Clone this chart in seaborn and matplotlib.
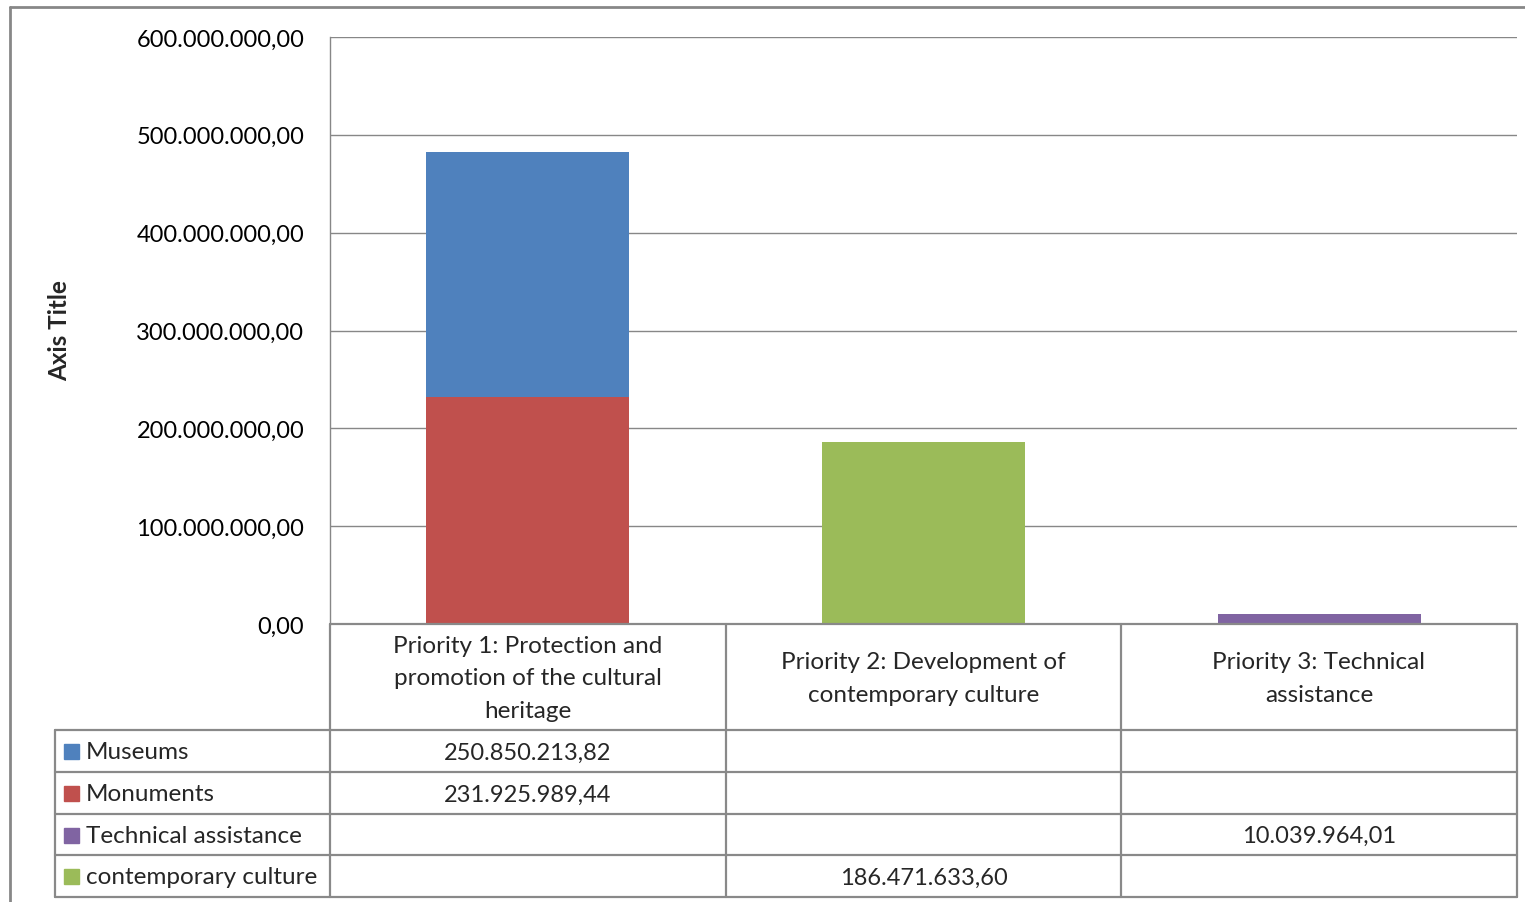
import numpy as np
import pandas as pd
import matplotlib
matplotlib.use("Agg")
import matplotlib.pyplot as plt
import seaborn as sns
from matplotlib.lines import Line2D
from matplotlib.patches import Rectangle

# ---- data ----
categories = ["Priority 1: Protection and\npromotion of the cultural\nheritage",
              "Priority 2: Development of\ncontemporary culture",
              "Priority 3: Technical\nassistance"]
series_names = ["Museums", "Monuments", "Technical assistance", "contemporary culture"]
museums = [250850213.82, np.nan, np.nan]
monuments = [231925989.44, np.nan, np.nan]
technical = [np.nan, np.nan, 10039964.01]
contemporary = [np.nan, 186471633.60, np.nan]
y_ticks = [0, 100e6, 200e6, 300e6, 400e6, 500e6, 600e6]
colors = {"Museums": "#4F81BD", "Monuments": "#C0504D",
          "Technical assistance": "#8064A2", "contemporary culture": "#9BBB59"}

W, H = 1525, 903
sns.set_theme(style="white")
plt.rcParams["font.family"] = ["Lato", "DejaVu Sans"]

fig = plt.figure(figsize=(W / 100, H / 100), dpi=100)

def fx(px):
    return px / W

def fy(py):
    return 1 - py / H

ax_l, ax_r, ax_t, ax_b = 330, 1517, 38, 625
ax = fig.add_axes([fx(ax_l), fy(ax_b), fx(ax_r) - fx(ax_l), fy(ax_t) - fy(ax_b)])

# stacked: museums sits on top of monuments (draw cumulative first, overlay lower segment)
mus_top = [m + n if not np.isnan(m) else np.nan for m, n in zip(museums, monuments)]
rows = []
for name, vals in zip(series_names, [mus_top, monuments, technical, contemporary]):
    for c, v in zip(categories, vals):
        if not np.isnan(v):
            rows.append({"cat": c, "val": v, "series": name})
df = pd.DataFrame(rows)

sns.barplot(data=df, x="cat", y="val", hue="series", order=categories,
            hue_order=series_names, palette=colors, dodge=False, width=0.513,
            saturation=1, errorbar=None, legend=False, ax=ax, zorder=3,
            linewidth=0, edgecolor="none")

ax.set_xlim(-0.5, 2.5)
ax.set_ylim(0, 600e6)
ax.set_yticks(y_ticks)

def fmt(v):
    s = f"{v:,.2f}"
    return s.replace(",", "X").replace(".", ",").replace("X", ".")

ax.set_yticklabels([fmt(v) for v in y_ticks], fontsize=17, color="black")
ax.tick_params(axis="y", length=0, pad=18.5)
ax.set_xticks([])
ax.set_xlabel("")
ax.set_ylabel("")
ax.grid(axis="y", color="#878787", linewidth=1.0, zorder=0)
ax.set_axisbelow(True)
for s in ["top", "right", "bottom"]:
    ax.spines[s].set_visible(False)
ax.spines["left"].set_color("#878787")
ax.spines["left"].set_linewidth(1.0)

fig.text(fx(60), fy(331), "Axis Title", rotation=90, fontsize=17.5, fontweight="bold",
         ha="center", va="center")

# ---- data table ----
lc = "#898989"
lw = 1.6

def hline(x0, x1, y):
    fig.add_artist(Line2D([fx(x0), fx(x1)], [fy(y), fy(y)], color=lc, lw=lw,
                          transform=fig.transFigure))

def vline(x, y0, y1):
    fig.add_artist(Line2D([fx(x), fx(x)], [fy(y0), fy(y1)], color=lc, lw=lw,
                          transform=fig.transFigure))

col_x = [55, 330, 726, 1121, 1517]
row_y = [625, 731, 773, 815, 856, 898]

hline(330, 1517, 625)
for y in row_y[1:]:
    hline(55, 1517, y)
vline(55, 731, 898)
for x in col_x[1:]:
    vline(x, 625, 898)

for i, c in enumerate(categories):
    cx = (col_x[i + 1] + col_x[i + 2]) / 2
    fig.text(fx(cx), fy((625 + 731) / 2 + 1), c, ha="center", va="center", fontsize=17.5,
             linespacing=1.66)

for r, (name, vals) in enumerate(zip(series_names, [museums, monuments, technical, contemporary])):
    yc = (row_y[r + 1] + row_y[r + 2]) / 2 + 1
    fig.add_artist(Rectangle((fx(64), fy(yc + 7)), fx(15), 15 / H,
                             color=colors[name], transform=fig.transFigure))
    fig.text(fx(86), fy(yc), name, ha="left", va="center", fontsize=17.5)
    for i, v in enumerate(vals):
        if not np.isnan(v):
            cx = (col_x[i + 1] + col_x[i + 2]) / 2
            fig.text(fx(cx), fy(yc), fmt(v), ha="center", va="center", fontsize=17)

# outer chart border
fig.add_artist(Line2D([fx(10), fx(10)], [fy(8), 0], color="#878787", lw=2,
                      transform=fig.transFigure))
fig.add_artist(Line2D([fx(10), 1], [fy(8), fy(8)], color="#878787", lw=2,
                      transform=fig.transFigure))

fig.savefig("out.png", dpi=100)
